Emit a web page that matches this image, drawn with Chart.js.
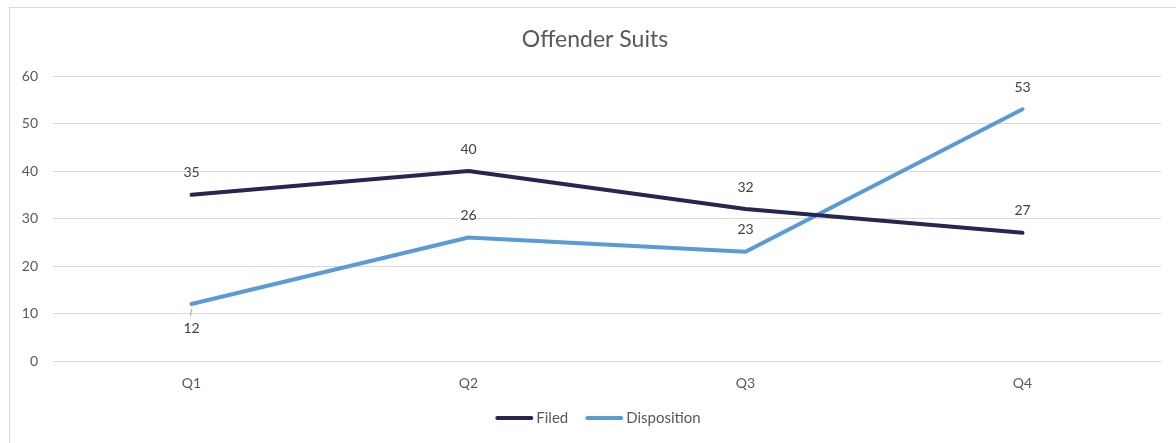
<!DOCTYPE html>
<html>
<head>
<meta charset="utf-8">
<script src="https://cdn.jsdelivr.net/npm/chart.js@4.4.0/dist/chart.umd.min.js"></script>
<style>
html,body{margin:0;padding:0;background:#fff;}
#wrap{position:relative;width:1176px;height:443px;overflow:hidden;}
#frame{position:absolute;left:9px;top:7px;width:1200px;height:460px;border:1px solid #d9d9d9;box-sizing:border-box;}
canvas{position:absolute;left:0;top:0;}
</style>
</head>
<body>
<div id="wrap">
<div id="frame"></div>
<canvas id="c" width="1176" height="443"></canvas>
</div>
<script>
const categories = ["Q1", "Q2", "Q3", "Q4"];
const filed = [35, 40, 32, 27];
const disposition = [12, 26, 23, 53];
const yTicks = [0, 10, 20, 30, 40, 50, 60];
const chartTitle = "Offender Suits";

const FONT = "Lato, 'Open Sans', sans-serif";

const dataLabelPlugin = {
  id: 'dataLabels',
  afterDatasetsDraw(chart) {
    const ctx = chart.ctx;
    ctx.save();
    ctx.font = "14px " + FONT;
    ctx.fillStyle = "#404040";
    ctx.textAlign = "center";
    ctx.textBaseline = "middle";
    chart.data.datasets.forEach((ds, di) => {
      const meta = chart.getDatasetMeta(di);
      meta.data.forEach((pt, i) => {
        const below = ds.labelBelow && ds.labelBelow[i];
        const y = below ? pt.y + 24 : pt.y - 22;
        if (below) {
          ctx.strokeStyle = "#a6a6a6";
          ctx.lineWidth = 1;
          ctx.beginPath();
          ctx.moveTo(pt.x - 1, pt.y + 12);
          ctx.lineTo(pt.x, pt.y + 5);
          ctx.stroke();
        }
        ctx.fillText(String(ds.data[i]), pt.x, y);
      });
    });
    ctx.restore();
  }
};

const titleLegendPlugin = {
  id: 'titleLegend',
  afterDraw(chart) {
    const ctx = chart.ctx;
    ctx.save();
    // title
    ctx.font = "23px " + FONT;
    ctx.fillStyle = "#595959";
    ctx.textAlign = "center";
    ctx.textBaseline = "middle";
    ctx.fillText(chartTitle, 595, 40);
    // legend
    ctx.font = "15px " + FONT;
    ctx.textAlign = "left";
    const sw = 38, gap = 3, spacing = 17;
    const items = chart.data.datasets.map(ds => ({ text: ds.label, color: ds.borderColor, w: ctx.measureText(ds.label).width }));
    let total = 0;
    items.forEach((it, i) => { total += sw + gap + it.w + (i < items.length - 1 ? spacing : 0); });
    let x = 598 - total / 2;
    const y = 418;
    items.forEach(it => {
      ctx.strokeStyle = it.color;
      ctx.lineWidth = 4;
      ctx.lineCap = 'round';
      ctx.beginPath();
      ctx.moveTo(x + 2, y);
      ctx.lineTo(x + sw - 2, y);
      ctx.stroke();
      ctx.fillStyle = "#595959";
      ctx.fillText(it.text, x + sw + gap, y);
      x += sw + gap + it.w + spacing;
    });
    ctx.restore();
  }
};

new Chart(document.getElementById('c'), {
  type: 'line',
  data: {
    labels: categories,
    datasets: [
      { label: "Filed", data: filed, borderColor: "#262652", backgroundColor: "#262652",
        borderWidth: 4, pointRadius: 0, tension: 0, borderCapStyle: 'round', borderJoinStyle: 'round' },
      { label: "Disposition", data: disposition, borderColor: "#5B9BD5", backgroundColor: "#5B9BD5",
        borderWidth: 4, pointRadius: 0, tension: 0, borderCapStyle: 'round', borderJoinStyle: 'round',
        labelBelow: [true, false, false, false] }
    ]
  },
  options: {
    responsive: false,
    animation: false,
    layout: { padding: { left: 10, right: 15, top: 76, bottom: 42 } },
    plugins: {
      title: { display: false },
      legend: { display: false },
      tooltip: { enabled: false }
    },
    scales: {
      x: {
        offset: true,
        grid: { display: false, drawTicks: false },
        border: { display: false },
        ticks: { color: "#595959", font: { family: FONT, size: 14 }, padding: 14 },
        afterFit(s) { s.height = 40; }
      },
      y: {
        min: 0, max: 60,
        afterBuildTicks(s) { s.ticks = yTicks.map(v => ({ value: v })); },
        grid: { color: "#d9d9d9", lineWidth: 1, drawTicks: false },
        border: { display: false },
        ticks: { color: "#595959", font: { family: FONT, size: 14 }, padding: 15 },
        afterFit(s) { s.width = 43; }
      }
    }
  },
  plugins: [dataLabelPlugin, titleLegendPlugin]
});
</script>
</body>
</html>
